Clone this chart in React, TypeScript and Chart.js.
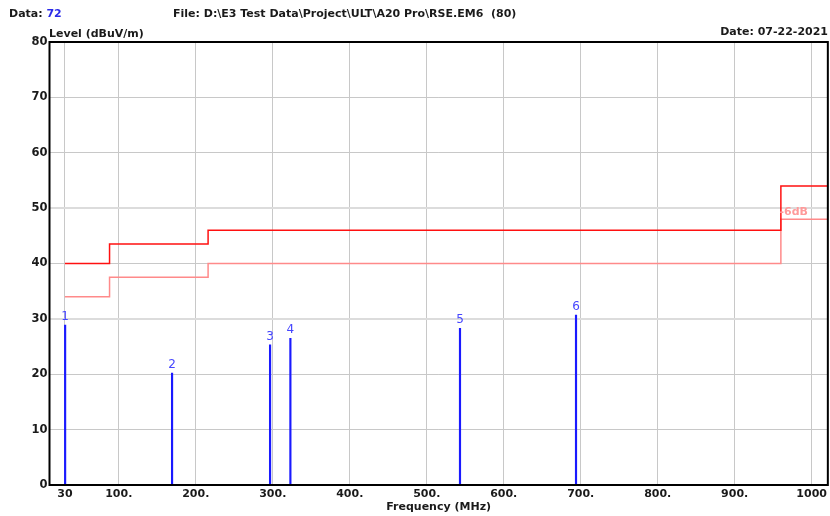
import React, { useEffect, useRef } from "react";
import { Chart, registerables } from "chart.js";

Chart.register(...registerables);

// ---- data ----
const xTickValues = [30, 100, 200, 300, 400, 500, 600, 700, 800, 900, 1000];
const xTickLabels = ["30", "100.", "200.", "300.", "400.", "500.", "600.", "700.", "800.", "900.", "1000"];
const limitFreq = [30, 88, 216, 960, 1021];
const limitLevel = [40, 43.5, 46, 54, 54];
const marginLevel = [34, 37.5, 40, 48, 48];
const markerFreq = [30.3, 169.2, 296.5, 322.9, 543.2, 693.9];
const markerLevel = [28.9, 20.2, 25.3, 26.5, 28.3, 30.7];
const markerLabels = ["1", "2", "3", "4", "5", "6"];

const X_MIN = 10;
const X_MAX = 1021;
const FONT = "DejaVu Sans";
const TEXT = "#1a1a1a";

const decor = {
  id: "decor",
  afterDraw(chart: any) {
    const { ctx, chartArea: a } = chart;
    ctx.save();
    // frame
    ctx.strokeStyle = "#000";
    ctx.lineWidth = 2;
    ctx.strokeRect(a.left, a.top, a.right - a.left, a.bottom - a.top);

    ctx.textBaseline = "middle";
    ctx.font = `bold 11px "${FONT}"`;
    ctx.fillStyle = TEXT;
    ctx.textAlign = "left";
    ctx.fillText("Data: ", 9, 14);
    const w = ctx.measureText("Data: ").width;
    ctx.fillStyle = "#2a2ae8";
    ctx.fillText("72", 9 + w, 14);
    ctx.fillStyle = TEXT;
    ctx.fillText("File: D:\\E3 Test Data\\Project\\ULT\\A20 Pro\\RSE.EM6  (80)", 173, 14);
    ctx.fillText("Level (dBuV/m)", 49, 34);
    ctx.textAlign = "right";
    ctx.fillText("Date: 07-22-2021", 828, 32);
    ctx.textAlign = "center";
    ctx.fillText("Frequency (MHz)", (a.left + a.right) / 2, 507);

    // margin label
    ctx.textAlign = "right";
    ctx.fillStyle = "#ff9a9a";
    ctx.fillText("-6dB", 808, 212);

    // marker labels
    const meta = chart.getDatasetMeta(2);
    ctx.font = `12px "${FONT}"`;
    ctx.fillStyle = "#4646ff";
    ctx.textAlign = "center";
    meta.data.forEach((el: any, i: number) => {
      ctx.fillText(markerLabels[i], el.x, el.y - 8);
    });
    ctx.restore();
  },
};

export default function App() {
  const ref = useRef<HTMLCanvasElement>(null);
  useEffect(() => {
    if (!ref.current) return;
    const chart = new Chart(ref.current, {
      type: "line",
      data: {
        datasets: [
          {
            label: "Limit",
            data: limitFreq.map((f, i) => ({ x: f, y: limitLevel[i] })),
            borderColor: "#ff1010",
            borderWidth: 1.5,
            stepped: "before",
            pointRadius: 0,
            fill: false,
          },
          {
            label: "Margin",
            data: limitFreq.map((f, i) => ({ x: f, y: marginLevel[i] })),
            borderColor: "#ff8a8a",
            borderWidth: 1.5,
            stepped: "before",
            pointRadius: 0,
            fill: false,
          },
          {
            type: "bar",
            label: "Markers",
            data: markerFreq.map((f, i) => ({ x: f, y: markerLevel[i] })),
            backgroundColor: "#1a1aff",
            barThickness: 1.5,
          } as any,
        ],
      },
      options: {
        animation: false,
        responsive: false,
        devicePixelRatio: 1,
        layout: { padding: { left: 0, right: 1, top: 42, bottom: 0 } },
        plugins: { legend: { display: false }, tooltip: { enabled: false }, title: { display: false } },
        scales: {
          x: {
            type: "linear",
            min: X_MIN,
            max: X_MAX,
            offset: false,
            afterBuildTicks: (s: any) => {
              s.ticks = xTickValues.map((v) => ({ value: v }));
            },
            afterFit: (s: any) => {
              s.height = 31;
            },
            ticks: {
              autoSkip: false,
              maxRotation: 0,
              padding: 3,
              color: TEXT,
              font: { family: FONT, size: 11, weight: "bold" },
              callback: (v: any) => {
                const i = xTickValues.indexOf(Number(v));
                return i >= 0 ? xTickLabels[i] : "";
              },
            },
            grid: { color: "#c8c8c8", lineWidth: 1, drawTicks: false, offset: false },
            border: { display: false },
          },
          y: {
            type: "linear",
            min: 0,
            max: 80,
            afterFit: (s: any) => {
              s.width = 49.5;
            },
            ticks: {
              stepSize: 10,
              padding: 2,
              color: TEXT,
              font: { family: FONT, size: 11.5, weight: "bold" },
            },
            grid: {
              drawTicks: false,
              color: (c: any) => {
                const v = c.tick?.value;
                if (v === 0 || v === 80) return "rgba(0,0,0,0)";
                return v === 30 || v === 50 ? "#dcdcdc" : "#c8c8c8";
              },
              lineWidth: (c: any) => {
                const v = c.tick?.value;
                return v === 30 || v === 50 ? 2 : 1;
              },
            },
            border: { display: false },
          },
        },
      },
      plugins: [decor],
    } as any);
    return () => chart.destroy();
  }, []);
  return (
    <div style={{ position: "absolute", left: 0, top: 0, width: 830, height: 516, background: "#fff" }}>
      <canvas ref={ref} width={830} height={516} style={{ width: 830, height: 516, display: "block" }} />
    </div>
  );
}
